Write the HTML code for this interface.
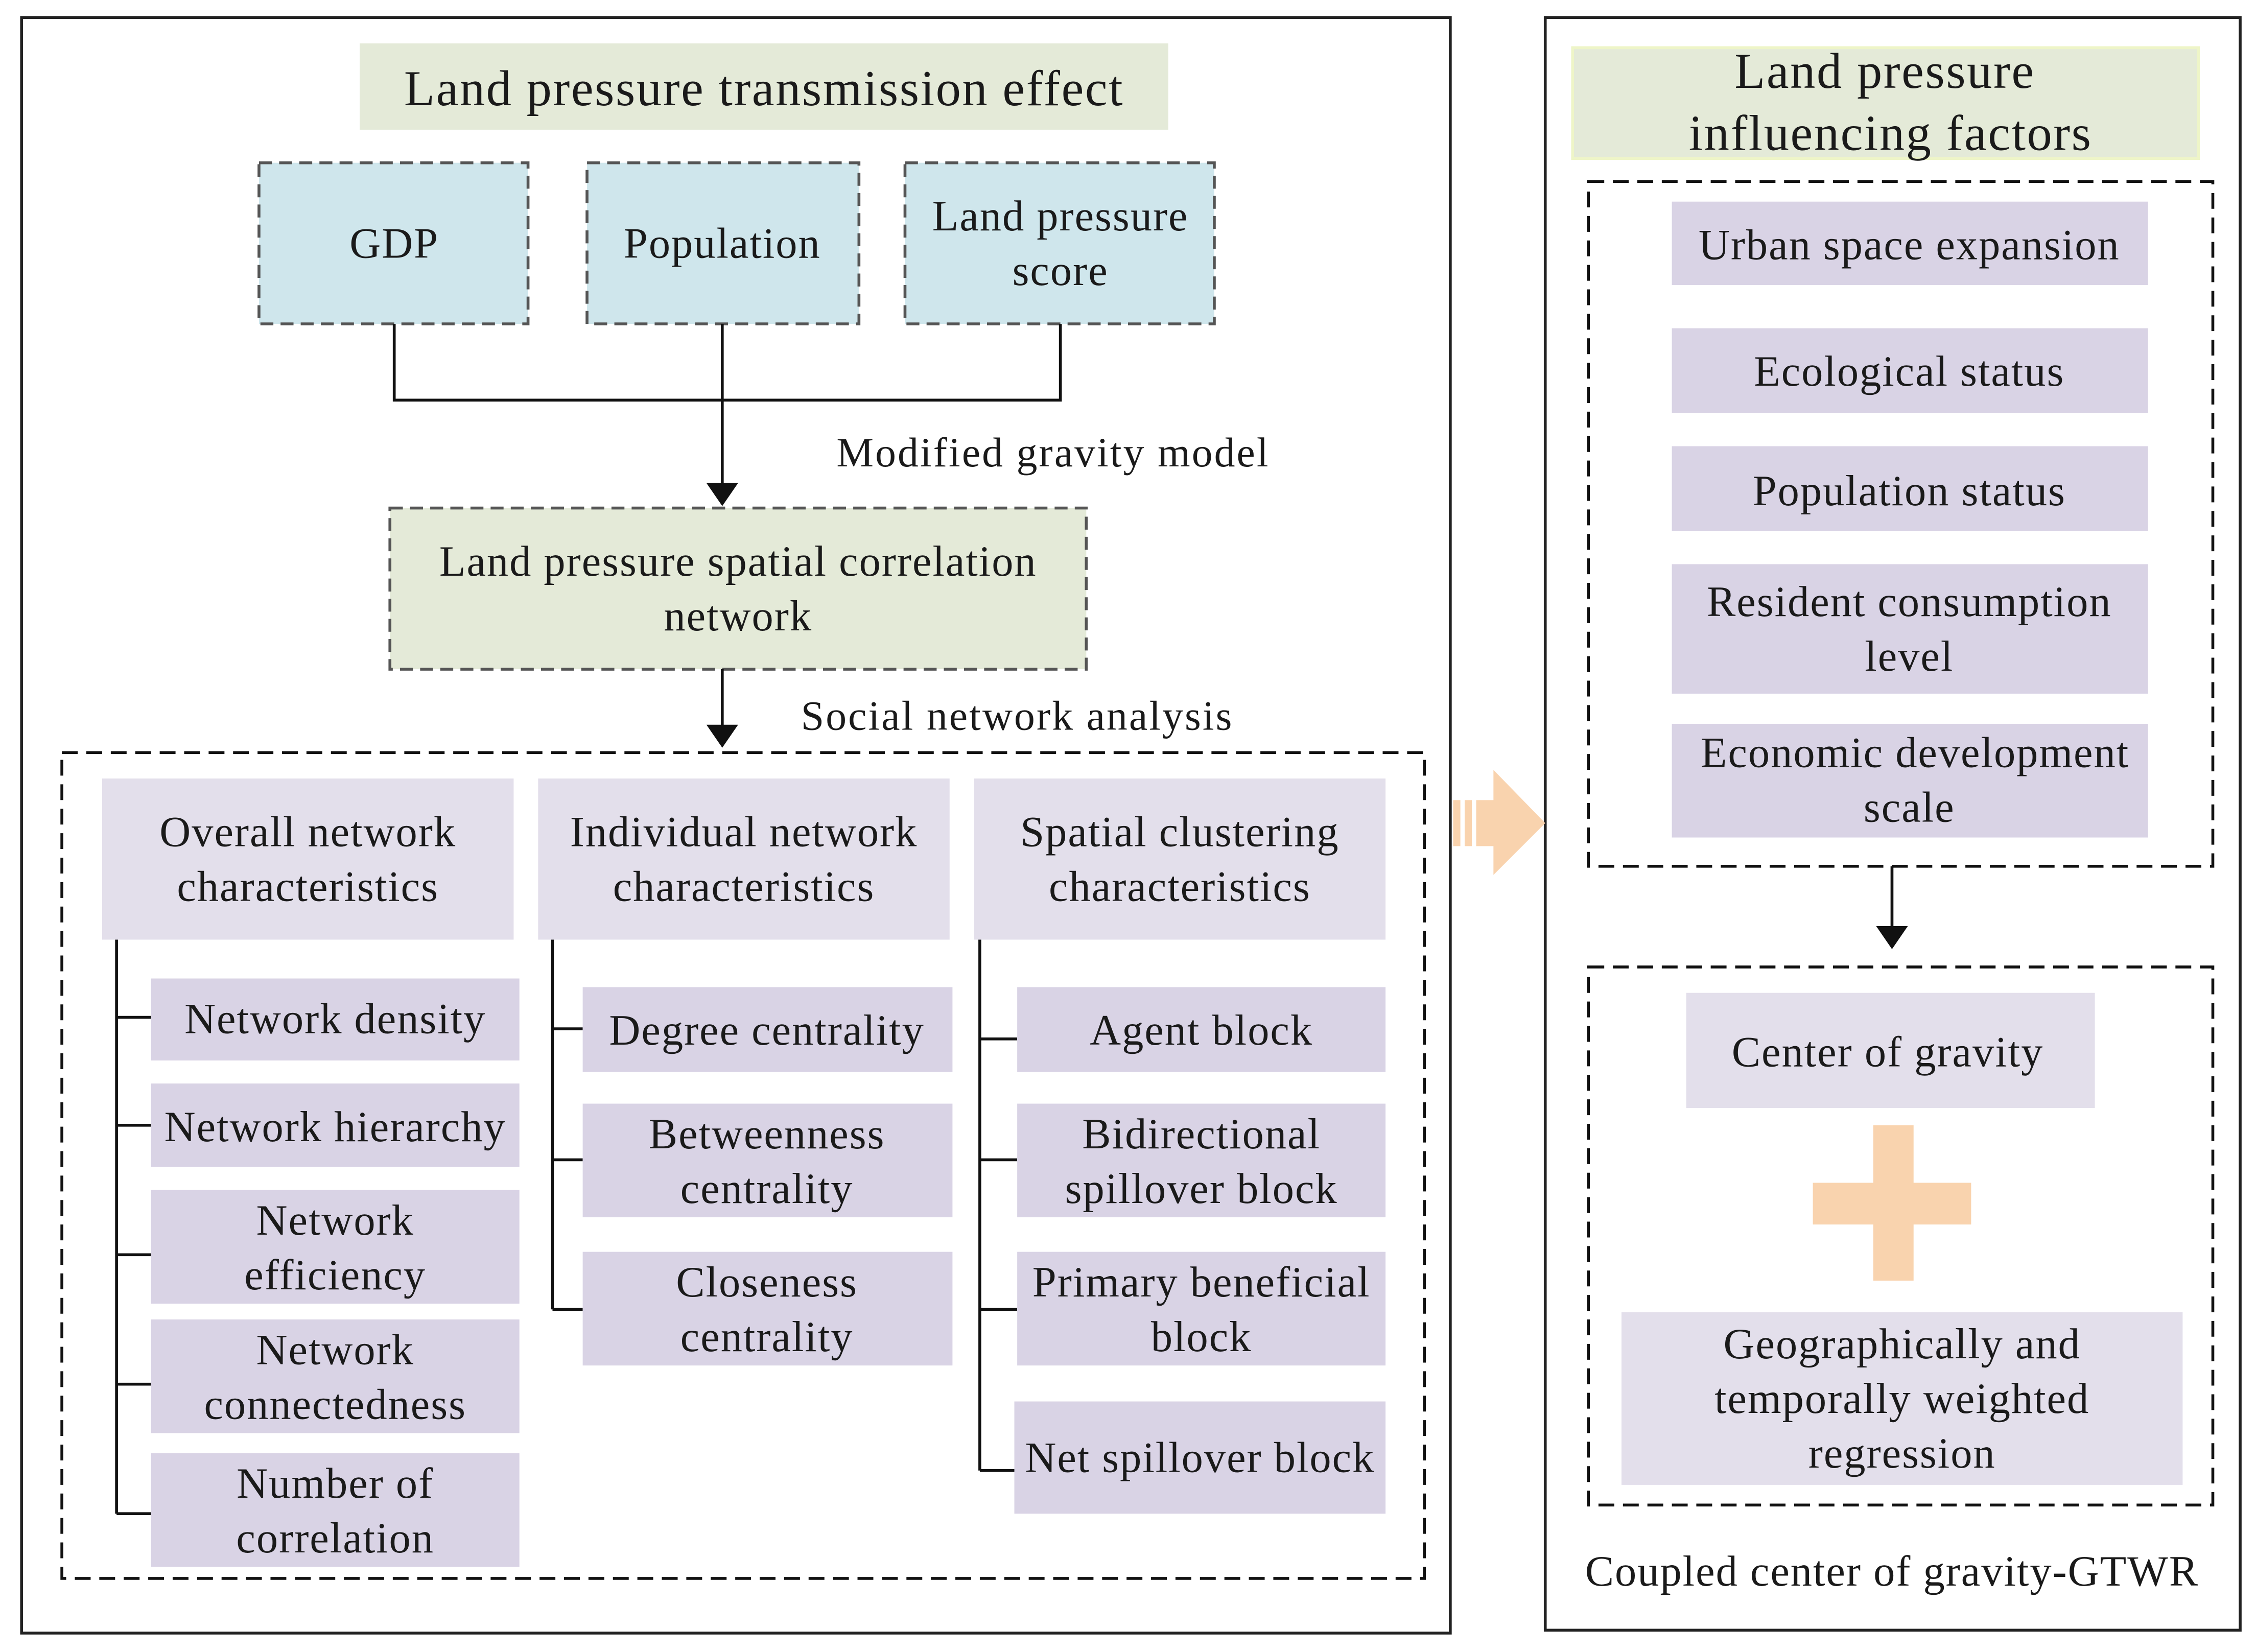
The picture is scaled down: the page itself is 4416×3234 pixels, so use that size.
<!DOCTYPE html>
<html><head><meta charset="utf-8"><style>
html,body{margin:0;padding:0;background:#fff;}
svg{display:block;}
text{font-family:"Liberation Serif",serif;fill:#1a1a1a;font-size:30px;letter-spacing:0.7px;text-anchor:middle;}
.t{font-size:35px;letter-spacing:0.9px;}
.s{font-size:29px;letter-spacing:1.1px;}
</style></head><body>
<svg width="4416" height="3234" viewBox="0 0 1568 1148" xmlns="http://www.w3.org/2000/svg">
<defs>
<marker id="b" viewBox="0 0 10 10" markerWidth="16" markerHeight="22" refX="9" refY="5" orient="auto" markerUnits="userSpaceOnUse" preserveAspectRatio="none"><path d="M0,0 L10,5 L0,10 z" fill="#111"/></marker></defs>
<rect x="15" y="12" width="993" height="1123" fill="none" stroke="#222" stroke-width="2"/>
<rect x="1074" y="12" width="483" height="1121" fill="none" stroke="#222" stroke-width="2"/>
<rect x="250" y="30" width="562" height="60" fill="#e4ead8"/>
<text class="t" x="531" y="73">Land pressure transmission effect</text>
<g stroke="#555" stroke-width="2" stroke-dasharray="9,5" fill="#cfe6ec">
<rect x="180" y="113" width="187" height="112"/><rect x="408" y="113" width="189" height="112"/><rect x="629" y="113" width="215" height="112"/></g>
<text x="274" y="179">GDP</text><text x="502" y="179">Population</text>
<text x="737" y="160">Land pressure</text><text x="737" y="198">score</text>
<path d="M274 225V278H737V225M502 225V350" stroke="#111" stroke-width="2" fill="none" marker-end="url(#b)"/>
<text class="s" x="732" y="324">Modified gravity model</text>
<rect x="271" y="353" width="484" height="112" fill="#e4ead8" stroke="#555" stroke-width="2" stroke-dasharray="9,5"/>
<text x="513" y="400">Land pressure spatial correlation</text><text x="513" y="438">network</text>
<path d="M502 465V518" stroke="#111" stroke-width="2" marker-end="url(#b)"/>
<text class="s" x="707" y="507">Social network analysis</text>
<rect x="43" y="523" width="947" height="574" fill="none" stroke="#111" stroke-width="2" stroke-dasharray="11,6"/>
<g fill="#e3dfeb"><rect x="71" y="541" width="286" height="112"/><rect x="374" y="541" width="286" height="112"/><rect x="677" y="541" width="286" height="112"/></g>
<text x="214" y="588">Overall network</text><text x="214" y="626">characteristics</text>
<text x="517" y="588">Individual network</text><text x="517" y="626">characteristics</text>
<text x="820" y="588">Spatial clustering</text><text x="820" y="626">characteristics</text>
<g stroke="#111" stroke-width="2" fill="none">
<path d="M81 653V1052M81 707H105M81 782H105M81 872H105M81 962H105M81 1052H105"/>
<path d="M384 653V910M384 715H405M384 806H405M384 910H405"/>
<path d="M681 653V1022M681 722H707M681 806H707M681 910H707M681 1022H707"/></g>
<g fill="#d9d3e5">
<rect x="105" y="680" width="256" height="57"/><rect x="105" y="753" width="256" height="58"/><rect x="105" y="827" width="256" height="79"/><rect x="105" y="917" width="256" height="79"/><rect x="105" y="1010" width="256" height="79"/>
<rect x="405" y="686" width="257" height="59"/><rect x="405" y="767" width="257" height="79"/><rect x="405" y="870" width="257" height="79"/>
<rect x="707" y="686" width="256" height="59"/><rect x="707" y="767" width="256" height="79"/><rect x="707" y="870" width="256" height="79"/><rect x="705" y="974" width="258" height="78"/></g>
<text x="233" y="718">Network density</text><text x="233" y="793">Network hierarchy</text>
<text x="233" y="858">Network</text><text x="233" y="896">efficiency</text>
<text x="233" y="948">Network</text><text x="233" y="986">connectedness</text>
<text x="233" y="1041">Number of</text><text x="233" y="1079">correlation</text>
<text x="533" y="726">Degree centrality</text>
<text x="533" y="798">Betweenness</text><text x="533" y="836">centrality</text>
<text x="533" y="901">Closeness</text><text x="533" y="939">centrality</text>
<text x="835" y="726">Agent block</text>
<text x="835" y="798">Bidirectional</text><text x="835" y="836">spillover block</text>
<text x="835" y="901">Primary beneficial</text><text x="835" y="939">block</text>
<text x="834" y="1023">Net spillover block</text>
<g fill="#f9d3ae"><rect x="1010" y="556" width="5" height="32"/><rect x="1018" y="556" width="5" height="32"/><rect x="1026" y="556" width="14" height="32"/><path d="M1038 535L1074 572L1038 608z"/></g>
<rect x="1093" y="33" width="435" height="77" fill="#e4ead8" stroke="#eef5c8" stroke-width="2"/>
<text class="t" x="1310" y="61">Land pressure</text><text class="t" x="1314" y="104">influencing factors</text>
<rect x="1104" y="126" width="434" height="476" fill="none" stroke="#111" stroke-width="2" stroke-dasharray="11,6"/>
<g fill="#d9d3e5"><rect x="1162" y="140" width="331" height="58"/><rect x="1162" y="228" width="331" height="59"/><rect x="1162" y="310" width="331" height="59"/><rect x="1162" y="392" width="331" height="90"/><rect x="1162" y="503" width="331" height="79"/></g>
<text x="1327" y="180">Urban space expansion</text><text x="1327" y="268">Ecological status</text><text x="1327" y="351">Population status</text>
<text x="1327" y="428">Resident consumption</text><text x="1327" y="466">level</text>
<text x="1331" y="533">Economic development</text><text x="1327" y="571">scale</text>
<path d="M1315 602V658" stroke="#111" stroke-width="2" marker-end="url(#b)"/>
<rect x="1104" y="672" width="434" height="374" fill="none" stroke="#111" stroke-width="2" stroke-dasharray="11,6"/>
<rect x="1172" y="690" width="284" height="80" fill="#e3dfeb"/>
<text x="1312" y="741">Center of gravity</text>
<g fill="#f9d3ae"><rect x="1302" y="782" width="28" height="108"/><rect x="1260" y="822" width="110" height="29"/></g>
<rect x="1127" y="912" width="390" height="120" fill="#e3dfeb"/>
<text x="1322" y="944">Geographically and</text><text x="1322" y="982">temporally weighted</text><text x="1322" y="1020">regression</text>
<text x="1315" y="1102">Coupled center of gravity-GTWR</text>
</svg>
</body></html>
